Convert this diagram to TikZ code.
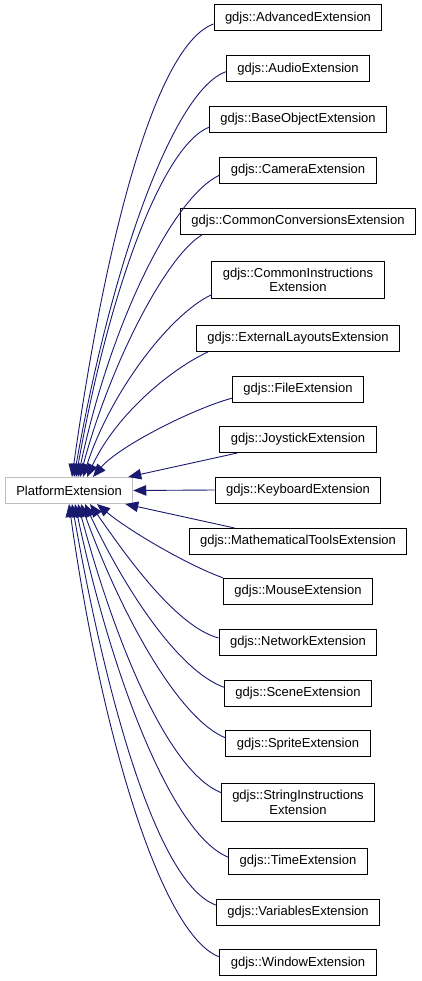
\documentclass[tikz,border=0pt]{standalone}
\usepackage{fontspec}
\setmainfont{Liberation Sans}
\usetikzlibrary{arrows.meta}
\definecolor{edgeblue}{RGB}{25,25,112}
\definecolor{basegray}{RGB}{191,191,191}
\tikzset{
  cls/.style={rectangle, draw=black, line width=1pt, fill=white, inner xsep=11pt, inner ysep=6.6pt,
    minimum height=26pt, align=center, font=\fontsize{13}{14.5}\selectfont},
  inh/.style={draw=edgeblue, line width=0.9pt, -{Triangle[length=13pt,width=10.5pt]}, fill=none}
}
\begin{document}
\begin{tikzpicture}[x=1pt, y=1pt]
    \useasboundingbox (0,0) rectangle (421,-981);
    % Draw nodes
    \node[cls, draw=basegray] (base) at (69,-490.5) {PlatformExtension};
    \node[cls] (adv) at (298,-18) {gdjs::AdvancedExtension};
    \node[cls] (audio) at (298,-68.7) {gdjs::AudioExtension};
    \node[cls] (baseobj) at (298,-119.3) {gdjs::BaseObjectExtension};
    \node[cls] (camera) at (298,-170.3) {gdjs::CameraExtension};
    \node[cls] (convs) at (298,-221.5) {gdjs::CommonConversionsExtension};
    \node[cls] (instr) at (298,-279.7) {gdjs::CommonInstructions\\Extension};
    \node[cls] (layouts) at (298,-338.5) {gdjs::ExternalLayoutsExtension};
    \node[cls] (file) at (298,-389.2) {gdjs::FileExtension};
    \node[cls] (joystick) at (298,-439.5) {gdjs::JoystickExtension};
    \node[cls] (keyboard) at (298,-490) {gdjs::KeyboardExtension};
    \node[cls] (math) at (298,-541.5) {gdjs::MathematicalToolsExtension};
    \node[cls] (mouse) at (298,-591.3) {gdjs::MouseExtension};
    \node[cls] (network) at (298,-642) {gdjs::NetworkExtension};
    \node[cls] (scene) at (298,-693.3) {gdjs::SceneExtension};
    \node[cls] (sprite) at (298,-743.8) {gdjs::SpriteExtension};
    \node[cls] (string) at (298,-802.5) {gdjs::StringInstructions\\Extension};
    \node[cls] (time) at (298,-861.2) {gdjs::TimeExtension};
    \node[cls] (variables) at (298,-912) {gdjs::VariablesExtension};
    \node[cls] (window) at (298,-962.8) {gdjs::WindowExtension};

    % Draw connections
    \draw[inh] ([yshift=-6pt]adv.west) .. controls +(200:60) and +(82:250) .. ([xshift=3pt]base.north);
    \draw[inh] ([yshift=-3pt]audio.west) .. controls +(200:55) and +(80:220) .. ([xshift=5pt]base.north);
    \draw[inh] ([yshift=-8pt]baseobj.west) .. controls +(202:50) and +(80:190) .. ([xshift=7pt]base.north);
    \draw[inh] ([yshift=-5pt]camera.west) .. controls +(205:50) and +(78:160) .. ([xshift=9pt]base.north);
    \draw[inh] ([xshift=22pt]convs.south west) .. controls +(210:40) and +(75:120) .. ([xshift=11pt]base.north);
    \draw[inh] ([yshift=4pt]instr.south west) .. controls +(205:45) and +(72:90) .. ([xshift=14pt]base.north);
    \draw[inh] ([xshift=12pt]layouts.south west) .. controls +(205:40) and +(65:70) .. ([xshift=18pt]base.north);
    \draw[inh] ([yshift=-9pt]file.west) .. controls +(195:40) and +(50:40) .. ([xshift=24pt]base.north);
    \draw[inh] ([xshift=18pt]joystick.south west) -- ([xshift=-5pt]base.north east);
    \draw[inh] (keyboard.west) -- (base.east);
    \draw[inh] ([xshift=46pt]math.north west) -- ([xshift=-8pt]base.south east);
    \draw[inh] (mouse.north west) .. controls +(160:40) and +(-40:40) .. ([xshift=28pt]base.south);
    \draw[inh] ([yshift=4pt]network.west) .. controls +(165:45) and +(-55:60) .. ([xshift=21pt]base.south);
    \draw[inh] ([yshift=6pt]scene.west) .. controls +(160:50) and +(-65:90) .. ([xshift=16pt]base.south);
    \draw[inh] ([yshift=6pt]sprite.west) .. controls +(158:50) and +(-70:120) .. ([xshift=12pt]base.south);
    \draw[inh] ([yshift=10pt]string.west) .. controls +(158:55) and +(-75:150) .. ([xshift=9pt]base.south);
    \draw[inh] ([yshift=4pt]time.west) .. controls +(158:60) and +(-78:180) .. ([xshift=6pt]base.south);
    \draw[inh] ([yshift=7pt]variables.west) .. controls +(160:60) and +(-80:210) .. ([xshift=3pt]base.south);
    \draw[inh] ([yshift=6pt]window.west) .. controls +(160:60) and +(-82:240) .. (base.south);
\end{tikzpicture}
\end{document}
